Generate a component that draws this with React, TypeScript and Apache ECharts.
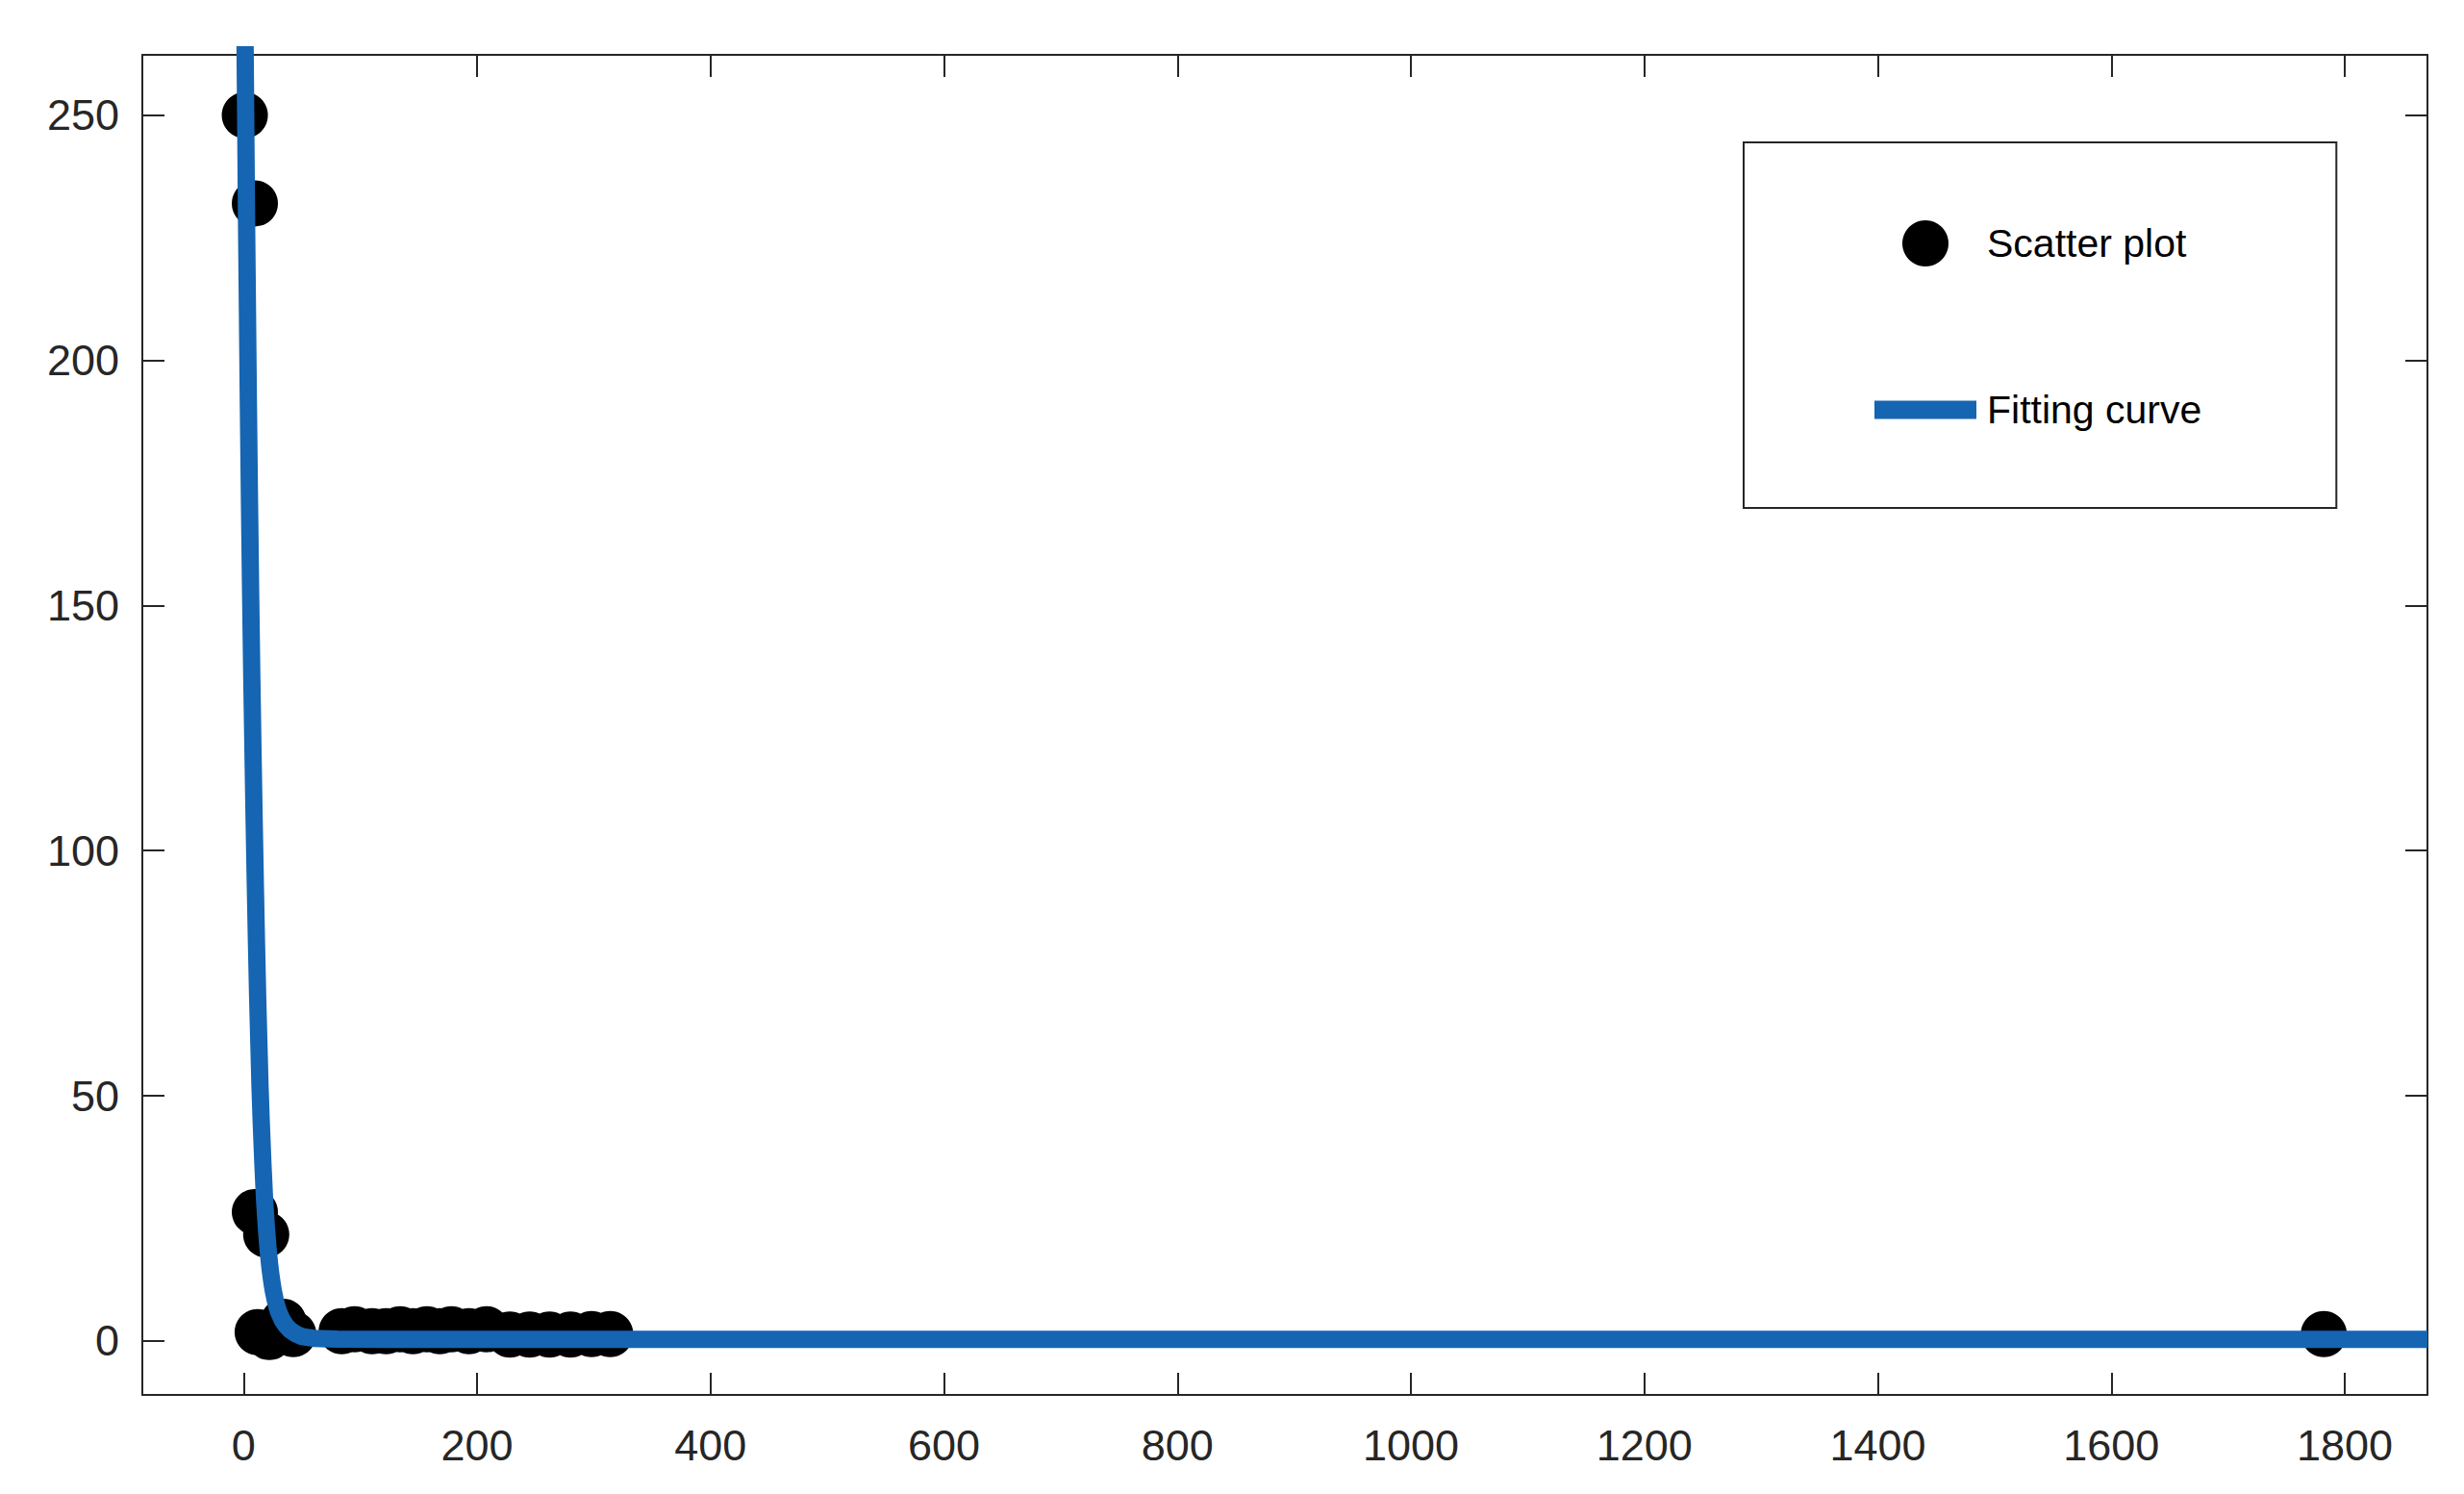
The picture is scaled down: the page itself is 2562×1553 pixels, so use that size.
import React, { useEffect, useRef } from "react";
import * as echarts from "echarts";

// Scatter observations (x, y)
const scatterX = [1, 9.6, 9.6, 19.3, 12, 22, 30, 34, 42.5, 84, 95, 110, 122, 134, 145, 157, 168, 178, 193, 208, 228, 245, 262, 280, 298, 314, 1782];
const scatterY = [250, 232, 26.3, 21.7, 1.8, 0.8, 2.5, 3.9, 1.4, 2.0, 2.4, 2.0, 2.0, 2.4, 2.0, 2.4, 2.0, 2.4, 2.0, 2.4, 1.3, 1.3, 1.3, 1.3, 1.4, 1.4, 1.4];

// Fitted curve
const curveX = [1.2, 2.5, 4, 5, 6, 7, 8, 9, 10, 11, 12, 13, 14, 15, 16.5, 18, 19.5, 21, 22.5, 24, 25.5, 27, 28.5, 30, 33, 36, 40, 45, 50, 60, 80, 120, 400, 1000, 1870.8];
const curveY = [265, 228, 192, 171, 152, 135, 120, 106, 93, 81, 70, 61, 52, 45, 36, 28.5, 23, 18.5, 15, 12.3, 10.1, 8.4, 7.0, 5.9, 4.3, 3.2, 2.2, 1.4, 0.9, 0.55, 0.4, 0.35, 0.35, 0.35, 0.35];

const xTicks = [0, 200, 400, 600, 800, 1000, 1200, 1400, 1600, 1800];
const yTicks = [0, 50, 100, 150, 200, 250];

const X_MIN = -86.8;
const X_MAX = 1870.8;
const Y_MIN = -11;
const Y_MAX = 262.3;

const FONT = "'Liberation Sans', Arial, Helvetica, sans-serif";
const AXIS_COLOR = "#262626";
const BLUE = "#1565b2";

export default function App() {
  const ref = useRef<HTMLDivElement>(null);

  useEffect(() => {
    if (!ref.current) return;
    const chart = echarts.init(ref.current, null, { renderer: "svg" });

    const axisCommon = {
      type: "value" as const,
      splitLine: { show: false },
      axisLine: { show: true, onZero: false, lineStyle: { color: AXIS_COLOR, width: 2 } },
    };

    const scatterData = scatterX.map((x, i) => [x, scatterY[i]]);
    const curveData = curveX.map((x, i) => [x, curveY[i]]);
    const plain = (v: number) => String(v);

    chart.setOption({
      animation: false,
      backgroundColor: "#ffffff",
      grid: { left: 148, right: 38, top: 57, bottom: 103, containLabel: false },
      xAxis: [
        {
          ...axisCommon,
          position: "bottom",
          min: X_MIN,
          max: X_MAX,
          axisTick: { show: true, inside: true, length: 23, customValues: xTicks, lineStyle: { color: AXIS_COLOR, width: 2 } },
          axisLabel: {
            show: true,
            customValues: xTicks,
            formatter: plain,
            margin: 30,
            fontSize: 45,
            fontFamily: FONT,
            color: AXIS_COLOR,
          },
        },
        {
          ...axisCommon,
          position: "top",
          min: X_MIN,
          max: X_MAX,
          axisTick: { show: true, inside: true, length: 23, customValues: xTicks, lineStyle: { color: AXIS_COLOR, width: 2 } },
          axisLabel: { show: false },
        },
      ],
      yAxis: [
        {
          ...axisCommon,
          position: "left",
          min: Y_MIN,
          max: Y_MAX,
          axisTick: { show: true, inside: true, length: 23, customValues: yTicks, lineStyle: { color: AXIS_COLOR, width: 2 } },
          axisLabel: {
            show: true,
            customValues: yTicks,
            formatter: plain,
            margin: 24,
            fontSize: 45,
            fontFamily: FONT,
            color: AXIS_COLOR,
          },
        },
        {
          ...axisCommon,
          position: "right",
          min: Y_MIN,
          max: Y_MAX,
          axisTick: { show: true, inside: true, length: 23, customValues: yTicks, lineStyle: { color: AXIS_COLOR, width: 2 } },
          axisLabel: { show: false },
        },
      ],
      legend: {
        orient: "vertical",
        left: 1813,
        top: 148,
        padding: [81, 140, 78, 136],
        itemGap: 125,
        itemWidth: 106,
        itemHeight: 48,
        borderColor: AXIS_COLOR,
        borderWidth: 2,
        backgroundColor: "#ffffff",
        textStyle: { fontSize: 41, fontFamily: FONT, color: "#000000", padding: [8, 0, 0, 6] },
        data: [
          { name: "Scatter plot", icon: "circle" },
          {
            name: "Fitting curve",
            icon: "path://M0,14.5h106v19h-106z M0,0h0.01v0.01h-0.01z M105.99,47.99h0.01v0.01h-0.01z",
          },
        ],
      },
      series: [
        {
          name: "Scatter plot",
          type: "scatter",
          xAxisIndex: 0,
          yAxisIndex: 0,
          symbol: "circle",
          symbolSize: 48,
          itemStyle: { color: "#000000", opacity: 1 },
          data: scatterData,
          z: 2,
        },
        {
          name: "Fitting curve",
          type: "line",
          xAxisIndex: 0,
          yAxisIndex: 0,
          showSymbol: false,
          symbol: "none",
          smooth: false,
          clip: true,
          color: BLUE,
          lineStyle: { color: BLUE, width: 18, join: "round", cap: "butt" },
          itemStyle: { color: BLUE },
          data: curveData,
          z: 3,
        },
      ],
    });

    return () => {
      chart.dispose();
    };
  }, []);

  return (
    <div
      ref={ref}
      style={{ position: "fixed", left: 0, top: 0, width: 2562, height: 1553, background: "#ffffff" }}
    />
  );
}
